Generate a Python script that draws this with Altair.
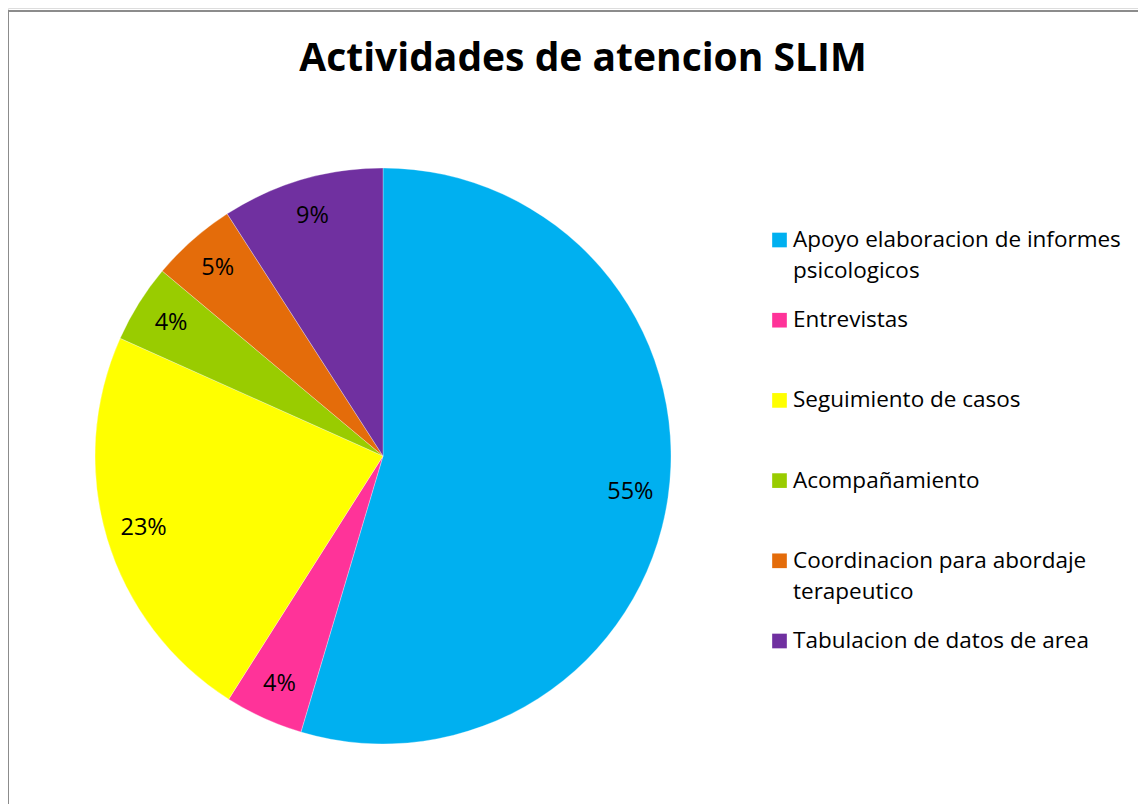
import altair as alt
import pandas as pd

categories = [
    "Apoyo elaboracion de informes psicologicos",
    "Entrevistas",
    "Seguimiento de casos",
    "Acompañamiento",
    "Coordinacion para abordaje terapeutico",
    "Tabulacion de datos de area",
]
values = [54.6, 4.4, 22.7, 4.4, 4.8, 9.1]
pct_labels = ["55%", "4%", "23%", "4%", "5%", "9%"]
legend_line1 = [
    "Apoyo elaboracion de informes",
    "Entrevistas",
    "Seguimiento de casos",
    "Acompañamiento",
    "Coordinacion para abordaje",
    "Tabulacion de datos de area",
]
legend_line2 = ["psicologicos", "", "", "", "terapeutico", ""]
colors = ["#00B0F0", "#FF3399", "#FFFF00", "#99CC00", "#E46C0A", "#7030A0"]

df = pd.DataFrame({
    "category": categories,
    "value": values,
    "pct": pct_labels,
    "line1": legend_line1,
    "line2": legend_line2,
    "idx": list(range(len(categories))),
})

FONT = "Open Sans"
W, H = 1130, 796
CX, CY, R = 375, 448, 288

color_scale = alt.Scale(domain=categories, range=colors)
base = alt.Chart(df)

pie = base.mark_arc(outerRadius=R, stroke="white", strokeWidth=0.3).encode(
    theta=alt.Theta("value:Q", stack=True),
    color=alt.Color("category:N", scale=color_scale, legend=None),
    order=alt.Order("idx:Q"),
    x=alt.value(CX),
    y=alt.value(CY),
)

pct_text = base.mark_text(radius=250, fontSize=23.5, font=FONT, color="black").encode(
    theta=alt.Theta("value:Q", stack=True),
    order=alt.Order("idx:Q"),
    text="pct:N",
    x=alt.value(CX),
    y=alt.value(CY),
)

leg_y = alt.Y("idx:Q", scale=alt.Scale(domain=[0, 5], range=[232, 633]), axis=None)

leg_sq = base.mark_square(size=215, opacity=1).encode(
    x=alt.value(771.5),
    y=leg_y,
    color=alt.Color("category:N", scale=color_scale, legend=None),
)
leg_t1 = base.mark_text(align="left", baseline="middle", fontSize=22.5, font=FONT, color="black").encode(
    x=alt.value(785), y=leg_y, text="line1:N"
)
leg_t2 = base.mark_text(align="left", baseline="middle", fontSize=22.5, font=FONT, color="black", dy=31).encode(
    x=alt.value(785), y=leg_y, text="line2:N"
)

title = alt.Chart(alt.Data(values=[{"t": "Actividades de atencion SLIM"}])).mark_text(
    fontSize=39, fontWeight="bold", font=FONT, color="black", align="center", baseline="alphabetic"
).encode(x=alt.value(575), y=alt.value(63), text="t:N")

border = alt.Chart(alt.Data(values=[{"a": 1}]))
left_rule = border.mark_rule(color="#8c8c8c", strokeWidth=2).encode(
    x=alt.value(0), y=alt.value(3), y2=alt.value(H)
)
top_rule = border.mark_rule(color="#8c8c8c", strokeWidth=2).encode(
    x=alt.value(0), x2=alt.value(W), y=alt.value(3)
)

chart = alt.layer(pie, pct_text, leg_sq, leg_t1, leg_t2, title, left_rule, top_rule).properties(
    width=W, height=H, padding=0, autosize=alt.AutoSizeParams(type="none")
).configure_view(strokeWidth=0, stroke="transparent").configure(background="white")

chart.save("out.html", embed_options={"renderer": "svg", "actions": False})
